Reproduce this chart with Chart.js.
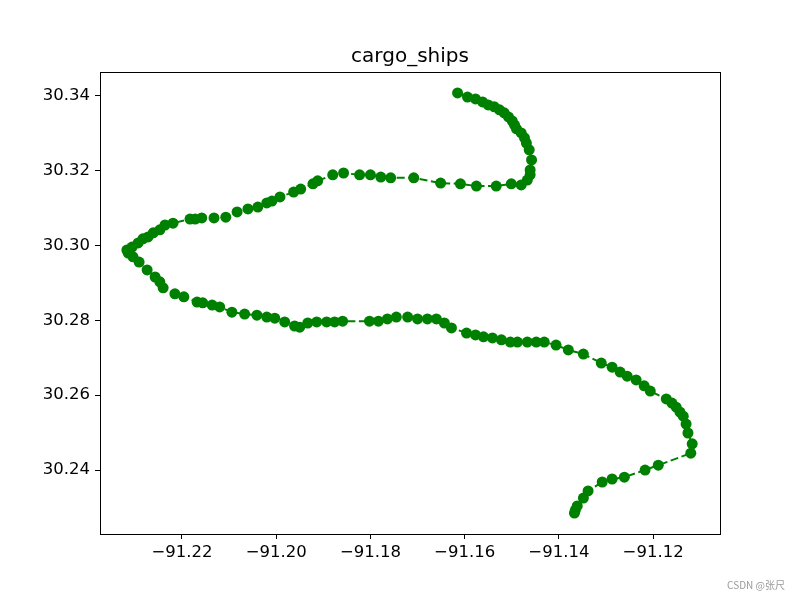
<!DOCTYPE html>
<html>
<head>
<meta charset="utf-8">
<script src="https://cdn.jsdelivr.net/npm/chart.js@4/dist/chart.umd.min.js"></script>
<style>
  html, body { margin: 0; padding: 0; background: #fff; }
  #wrap { width: 800px; height: 600px; }
</style>
</head>
<body>
<div id="wrap"><canvas id="chart" width="800" height="600"></canvas></div>
<script>
// ── Track of the cargo ship (lon / lat) ───────────────────

const titleText = "cargo_ships";

const lons = [
  -91.1615, -91.1594, -91.1577, -91.1562, -91.1550, -91.1537, -91.1526, -91.1516,
  -91.1507, -91.1499, -91.1494, -91.1490, -91.1480, -91.1473, -91.1469, -91.1463,
  -91.1458, -91.1461, -91.1461, -91.1467, -91.1480, -91.1501, -91.1533, -91.1575,
  -91.1609, -91.1651, -91.1708, -91.1757, -91.1778, -91.1800, -91.1823, -91.1857,
  -91.1880, -91.1912, -91.1922, -91.1948, -91.1963, -91.1992, -91.2009, -91.2020,
  -91.2039, -91.2060, -91.2083, -91.2107, -91.2132, -91.2158, -91.2172, -91.2183,
  -91.2219, -91.2236, -91.2247, -91.2261, -91.2272, -91.2283, -91.2293, -91.2306,
  -91.2317, -91.2314, -91.2304, -91.2291, -91.2274, -91.2257, -91.2247, -91.2240,
  -91.2215, -91.2196, -91.2168, -91.2156, -91.2136, -91.2120, -91.2094, -91.2067,
  -91.2041, -91.2020, -91.2003, -91.1982, -91.1961, -91.1950, -91.1933, -91.1914,
  -91.1893, -91.1876, -91.1859, -91.1802, -91.1783, -91.1764, -91.1745, -91.1721,
  -91.1700, -91.1679, -91.1660, -91.1643, -91.1628, -91.1596, -91.1577, -91.1560,
  -91.1541, -91.1522, -91.1503, -91.1488, -91.1467, -91.1448, -91.1431, -91.1406,
  -91.1380, -91.1348, -91.1310, -91.1287, -91.1270, -91.1255, -91.1236, -91.1219,
  -91.1206, -91.1172, -91.1160, -91.1151, -91.1143, -91.1136, -91.1130, -91.1126,
  -91.1117, -91.1120, -91.1189, -91.1217, -91.1261, -91.1287, -91.1308, -91.1338,
  -91.1348, -91.1361, -91.1365, -91.1367,
];

const lats = [
  30.3408, 30.3397, 30.3392, 30.3384, 30.3376, 30.3371, 30.3363, 30.3355,
  30.3344, 30.3333, 30.3322, 30.3312, 30.3301, 30.3288, 30.3274, 30.3256,
  30.3229, 30.3202, 30.3189, 30.3175, 30.3162, 30.3165, 30.3159, 30.3159,
  30.3165, 30.3167, 30.3181, 30.3181, 30.3183, 30.3189, 30.3189, 30.3194,
  30.3189, 30.3173, 30.3165, 30.3151, 30.3143, 30.3130, 30.3119, 30.3114,
  30.3103, 30.3098, 30.3090, 30.3076, 30.3074, 30.3074, 30.3071, 30.3071,
  30.3060, 30.3055, 30.3042, 30.3034, 30.3023, 30.3018, 30.3007, 30.2996,
  30.2988, 30.2980, 30.2970, 30.2956, 30.2935, 30.2916, 30.2903, 30.2887,
  30.2871, 30.2863, 30.2849, 30.2847, 30.2841, 30.2836, 30.2822, 30.2817,
  30.2814, 30.2809, 30.2806, 30.2796, 30.2785, 30.2782, 30.2793, 30.2796,
  30.2796, 30.2796, 30.2798, 30.2798, 30.2798, 30.2804, 30.2809, 30.2809,
  30.2804, 30.2804, 30.2804, 30.2793, 30.2780, 30.2766, 30.2761, 30.2756,
  30.2753, 30.2748, 30.2742, 30.2742, 30.2742, 30.2742, 30.2742, 30.2734,
  30.2721, 30.2710, 30.2686, 30.2675, 30.2662, 30.2651, 30.2641, 30.2625,
  30.2611, 30.2590, 30.2579, 30.2568, 30.2555, 30.2544, 30.2523, 30.2499,
  30.2470, 30.2445, 30.2413, 30.2400, 30.2381, 30.2376, 30.2368, 30.2344,
  30.2325, 30.2304, 30.2293, 30.2285,
];

const xTicks = [-91.22, -91.20, -91.18, -91.16, -91.14, -91.12];
const yTicks = [30.24, 30.26, 30.28, 30.30, 30.32, 30.34];

const FONT = "'DejaVu Sans', sans-serif";
const fmt = (v) => v.toFixed(2).replace("-", "\u2212");

// frame around the plot area, title over the axes, watermark
const framePlugin = {
  id: "frame",
  afterDraw(chart) {
    const { ctx, chartArea: a } = chart;
    ctx.save();
    ctx.strokeStyle = "#000";
    ctx.lineWidth = 1;
    ctx.strokeRect(a.left + 0.5, a.top + 0.5, a.right - a.left, a.bottom - a.top);

    ctx.fillStyle = "#000";
    ctx.font = "20px " + FONT;
    ctx.textAlign = "center";
    ctx.textBaseline = "alphabetic";
    ctx.fillText(titleText, (a.left + a.right) / 2, a.top - 10);

    ctx.fillStyle = "#999";
    ctx.font = "10px 'Noto Sans CJK SC', sans-serif";
    ctx.textAlign = "right";
    ctx.textBaseline = "middle";
    ctx.fillText("CSDN @张尺", 785, 585);
    ctx.restore();
  },
};

new Chart(document.getElementById("chart"), {
  type: "scatter",
  data: {
    datasets: [
      {
        label: titleText,
        data: lons.map((x, i) => ({ x, y: lats[i] })),
        showLine: true,
        borderColor: "#008000",
        backgroundColor: "#008000",
        borderWidth: 2,
        borderDash: [8, 3.5],
        pointRadius: 5.5,
        pointBorderWidth: 0,
        pointHoverRadius: 5.5,
      },
    ],
  },
  options: {
    responsive: false,
    animation: false,
    layout: { padding: { left: 0, right: 80, top: 72, bottom: 0 } },
    plugins: {
      legend: { display: false },
      tooltip: { enabled: false },
      title: { display: false },
    },
    scales: {
      x: {
        type: "linear",
        min: -91.2374,
        max: -91.1058,
        afterBuildTicks: (s) => { s.ticks = xTicks.map((v) => ({ value: v })); },
        afterFit: (s) => { s.height = 66; },
        grid: { drawOnChartArea: false, drawTicks: true, tickLength: 5, tickColor: "#000" },
        border: { display: false },
        ticks: {
          color: "#000",
          font: { family: FONT, size: 16.5 },
          padding: 4,
          maxRotation: 0,
          callback: (v) => fmt(v),
        },
      },
      y: {
        type: "linear",
        min: 30.2229,
        max: 30.3464,
        afterBuildTicks: (s) => { s.ticks = yTicks.map((v) => ({ value: v })); },
        afterFit: (s) => { s.width = 100; },
        grid: { drawOnChartArea: false, drawTicks: true, tickLength: 5, tickColor: "#000" },
        border: { display: false },
        ticks: {
          color: "#000",
          font: { family: FONT, size: 16.5 },
          padding: 5,
          callback: (v) => fmt(v),
        },
      },
    },
  },
  plugins: [framePlugin],
});
</script>
</body>
</html>
